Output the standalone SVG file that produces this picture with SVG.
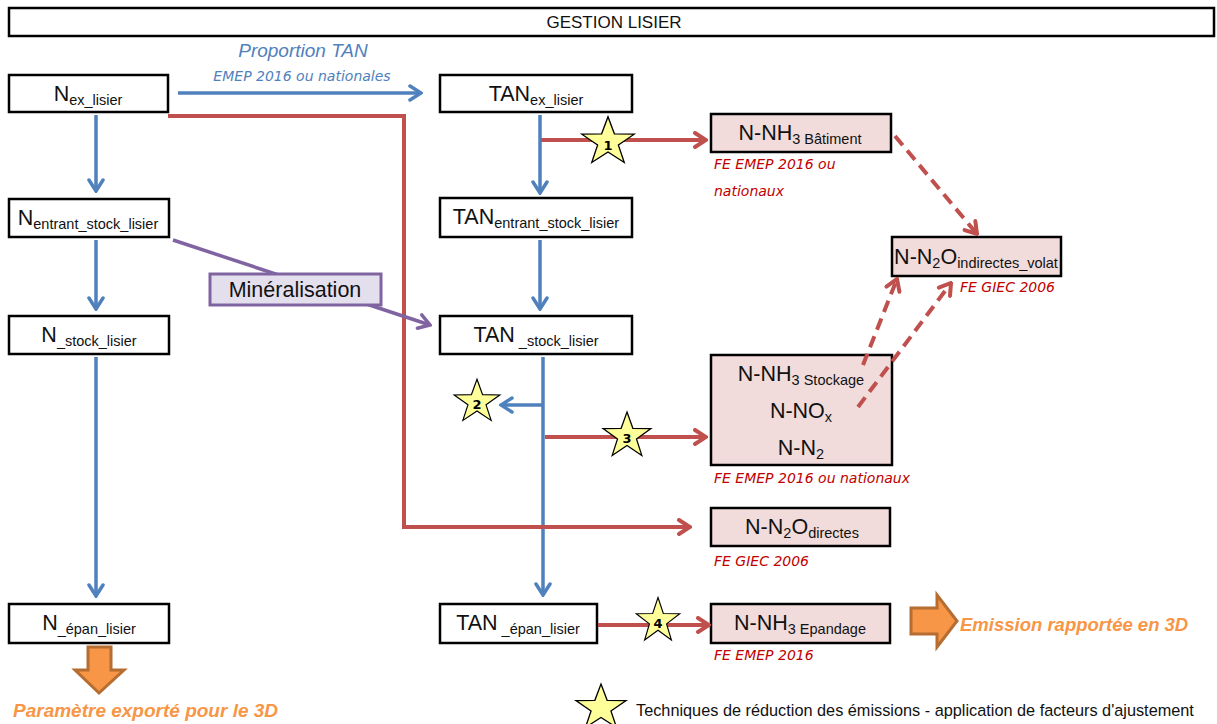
<svg xmlns="http://www.w3.org/2000/svg" width="1217" height="724" viewBox="0 0 1217 724">
<style>
.box{fill:#fff;stroke:#000;stroke-width:2.5}
.pink{fill:#f2dcdb;stroke:#000;stroke-width:2.5}
.t{font-family:"Liberation Sans",Arial,sans-serif;font-size:21.5px;fill:#111}
.s{font-size:14.5px}
.fe{font-family:"DejaVu Sans",Verdana,sans-serif;font-style:italic;font-size:14px;fill:#c00000}
.blue{stroke:#4f81bd;stroke-width:3.5;fill:none}
.red{stroke:#c0504d;stroke-width:4;fill:none}
.dash{stroke:#c0504d;stroke-width:4;fill:none;stroke-dasharray:12 7}
.purple{stroke:#8064a2;stroke-width:3.5;fill:none}
.star{fill:#ffff99;stroke:#000;stroke-width:1.2}
.num{font-family:"DejaVu Sans",Verdana,sans-serif;font-weight:bold;font-size:13px;fill:#000;text-anchor:middle}
.orange{fill:#f79646;stroke:#b66d31;stroke-width:3}
.ot{font-family:"Liberation Sans",Arial,sans-serif;font-weight:bold;font-style:italic;fill:#f79646}
</style>
<defs>
<marker id="ab" markerUnits="userSpaceOnUse" viewBox="0 0 16 18" markerWidth="16" markerHeight="18" refX="14" refY="9" orient="auto"><path d="M3,2 L14,9 L3,16" fill="none" stroke="#4f81bd" stroke-width="3.5" stroke-linecap="round"/></marker>
<marker id="ar" markerUnits="userSpaceOnUse" viewBox="0 0 16 18" markerWidth="16" markerHeight="18" refX="14" refY="9" orient="auto"><path d="M3,2 L14,9 L3,16" fill="none" stroke="#c0504d" stroke-width="4" stroke-linecap="round"/></marker>
<marker id="ap" markerUnits="userSpaceOnUse" viewBox="0 0 16 18" markerWidth="16" markerHeight="18" refX="14" refY="9" orient="auto"><path d="M3,2 L14,9 L3,16" fill="none" stroke="#8064a2" stroke-width="3.5" stroke-linecap="round"/></marker>
<polygon id="star" points="0,-24 5.59,-7.69 22.83,-7.42 9.03,2.94 14.11,19.42 0,9.5 -14.11,19.42 -9.03,2.94 -22.83,-7.42 -5.59,-7.69"/>
</defs>

<g id="title">
<rect x="9" y="8" width="1205" height="28" fill="#fff" stroke="#000" stroke-width="2.5"/>
<text x="614" y="28" text-anchor="middle" font-family="Liberation Sans,Arial,sans-serif" font-size="17" fill="#111">GESTION LISIER</text>
</g>

<g id="n_ex_lisier">
<rect class="box" x="9" y="75" width="159" height="37"/>
<text class="t" x="88" y="101" text-anchor="middle">N<tspan class="s" dy="4">ex_lisier</tspan></text>
</g>
<g id="n_entrant_stock_lisier">
<rect class="box" x="9" y="199" width="160" height="38"/>
<text class="t" x="88" y="225" text-anchor="middle">N<tspan class="s" dy="4">entrant_stock_lisier</tspan></text>
</g>
<g id="n_stock_lisier">
<rect class="box" x="9" y="316" width="160" height="38"/>
<text class="t" x="89" y="342" text-anchor="middle">N<tspan class="s" dy="4">_stock_lisier</tspan></text>
</g>
<g id="n_epan_lisier">
<rect class="box" x="9" y="604" width="160" height="39"/>
<text class="t" x="89" y="630" text-anchor="middle">N<tspan class="s" dy="4">_épan_lisier</tspan></text>
</g>

<g id="tan_ex_lisier">
<rect class="box" x="440" y="75" width="192" height="37"/>
<text class="t" x="536" y="101" text-anchor="middle">TAN<tspan class="s" dy="4">ex_lisier</tspan></text>
</g>
<g id="tan_entrant_stock_lisier">
<rect class="box" x="440" y="198" width="192" height="39"/>
<text class="t" x="536" y="224" text-anchor="middle">TAN<tspan class="s" dy="4">entrant_stock_lisier</tspan></text>
</g>
<g id="tan_stock_lisier">
<rect class="box" x="440" y="316" width="192" height="38"/>
<text class="t" x="536" y="342" text-anchor="middle">TAN<tspan class="s" dy="4"> _stock_lisier</tspan></text>
</g>
<g id="tan_epan_lisier">
<rect class="box" x="440" y="604" width="157" height="39"/>
<text class="t" x="518" y="630" text-anchor="middle">TAN<tspan class="s" dy="4"> _épan_lisier</tspan></text>
</g>

<g id="nh3_batiment">
<rect class="pink" x="711" y="114" width="180" height="38"/>
<text class="t" x="800" y="140" text-anchor="middle">N-NH<tspan class="s" dy="4">3 Bâtiment</tspan></text>
<text class="fe" x="714" y="169">FE EMEP 2016 ou</text>
<text class="fe" x="714" y="196">nationaux</text>
</g>
<g id="n2o_indirectes">
<rect class="pink" x="892" y="237" width="169" height="39"/>
<text class="t" x="976" y="264" text-anchor="middle">N-N<tspan class="s" font-size="13.5" dy="4">2</tspan><tspan dy="-4">O</tspan><tspan class="s" font-size="13.5" dy="4">indirectes_volat</tspan></text>
<text class="fe" x="960" y="292">FE GIEC 2006</text>
</g>
<g id="stockage">
<rect class="pink" x="711" y="355" width="181" height="110"/>
<text class="t" x="801" y="381" text-anchor="middle">N-NH<tspan class="s" dy="4">3 Stockage</tspan></text>
<text class="t" x="801" y="418" text-anchor="middle">N-NO<tspan class="s" dy="4">x</tspan></text>
<text class="t" x="801" y="455" text-anchor="middle">N-N<tspan class="s" dy="4">2</tspan></text>
<text class="fe" x="714" y="483">FE EMEP 2016 ou nationaux</text>
</g>
<g id="n2o_directes">
<rect class="pink" x="711" y="508" width="179" height="38"/>
<text class="t" x="802" y="534" text-anchor="middle">N-N<tspan class="s" dy="4">2</tspan><tspan dy="-4">O</tspan><tspan class="s" dy="4">directes</tspan></text>
<text class="fe" x="714" y="566">FE GIEC 2006</text>
</g>
<g id="nh3_epandage">
<rect class="pink" x="711" y="604" width="179" height="39"/>
<text class="t" x="800" y="630" text-anchor="middle">N-NH<tspan class="s" dy="4">3 Epandage</tspan></text>
<text class="fe" x="714" y="660">FE EMEP 2016</text>
</g>

<g id="connectors">
<path class="blue" d="M178,93 H421" marker-end="url(#ab)"/>
<path class="blue" d="M96,115 V191" marker-end="url(#ab)"/>
<path class="blue" d="M96,240 V309" marker-end="url(#ab)"/>
<path class="blue" d="M96,357 V596" marker-end="url(#ab)"/>
<path class="blue" d="M540,115 V193" marker-end="url(#ab)"/>
<path class="blue" d="M540,240 V309" marker-end="url(#ab)"/>
<path class="blue" d="M543,357 V595" marker-end="url(#ab)"/>
<path class="blue" d="M543,405 H501" marker-end="url(#ab)"/>
<path class="red" d="M168,116 H404 V527 H690" marker-end="url(#ar)"/>
<path class="red" d="M541,140 H706" marker-end="url(#ar)"/>
<path class="red" d="M545,437 H706" marker-end="url(#ar)"/>
<path class="red" d="M598,625 H709" marker-end="url(#ar)"/>
<path class="purple" d="M173,240 L430,325" marker-end="url(#ap)"/>
<path class="dash" d="M895,136 L977,234" marker-end="url(#ar)"/>
<path class="dash" d="M863,365 L897,279" marker-end="url(#ar)"/>
<path class="dash" d="M858,407 L951,283" marker-end="url(#ar)"/>
<text x="303" y="57" text-anchor="middle" font-family="Liberation Sans,Arial,sans-serif" font-style="italic" font-size="19" fill="#4f81bd">Proportion TAN</text>
<text x="302" y="81" text-anchor="middle" font-family="DejaVu Sans,Verdana,sans-serif" font-style="italic" font-size="14" fill="#4f81bd">EMEP 2016 ou nationales</text>
</g>

<g id="mineralisation">
<rect x="210" y="274" width="171" height="31" fill="#e4dfec" stroke="#8064a2" stroke-width="3"/>
<text x="295" y="297" class="t" text-anchor="middle" font-size="20">Minéralisation</text>
</g>

<g id="stars">
<g transform="translate(608,142) scale(1.15,1.05)"><use href="#star" class="star"/></g>
<text class="num" x="608" y="150">1</text>
<g transform="translate(477,402) scale(1,0.95)"><use href="#star" class="star"/></g>
<text class="num" x="477" y="409">2</text>
<g transform="translate(627,436) scale(1.05,1)"><use href="#star" class="star"/></g>
<text class="num" x="627" y="443">3</text>
<g transform="translate(658,621) scale(0.95,0.98)"><use href="#star" class="star"/></g>
<text class="num" x="658" y="628">4</text>
</g>

<g id="export_param">
<path class="orange" d="M88,647 H111 V670 H124 L99,693 L75,670 H88 Z"/>
<text class="ot" x="13" y="717" font-size="19">Paramètre exporté pour le 3D</text>
</g>
<g id="export_emission">
<path class="orange" d="M911,608 H937 V595 L957,621 L937,647 V634 H911 Z"/>
<text class="ot" x="960" y="631" font-size="18.5">Emission rapportée en 3D</text>
</g>

<g id="legend">
<g transform="translate(601,708) scale(1.1,1)"><use href="#star" class="star"/></g>
<text x="636" y="716" font-family="Liberation Sans,Arial,sans-serif" font-size="16.3" fill="#111">Techniques de réduction des émissions - application de facteurs d'ajustement</text>
</g>
</svg>
